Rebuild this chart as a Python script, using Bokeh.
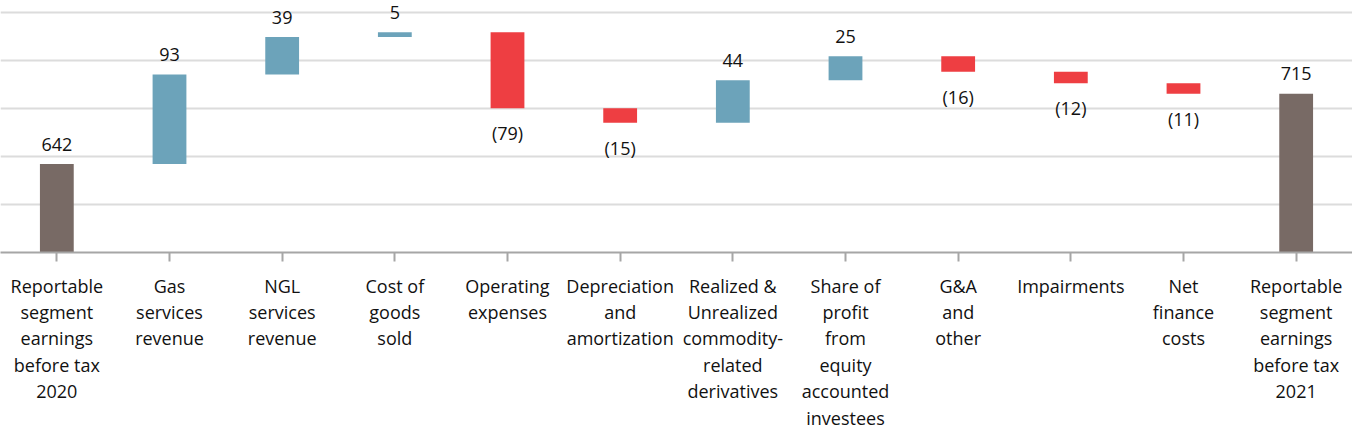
from bokeh.plotting import figure
from bokeh.models import ColumnDataSource, FixedTicker, FactorRange, Range1d
from bokeh.core.properties import value
from bokeh.embed import file_html
from bokeh.resources import INLINE

categories = [
    "Reportable\nsegment\nearnings\nbefore tax\n2020",
    "Gas\nservices\nrevenue",
    "NGL\nservices\nrevenue",
    "Cost of\ngoods\nsold",
    "Operating\nexpenses",
    "Depreciation\nand\namortization",
    "Realized &\nUnrealized\ncommodity-\nrelated\nderivatives",
    "Share of\nprofit\nfrom\nequity\naccounted\ninvestees",
    "G&A\nand\nother",
    "Impairments",
    "Net\nfinance\ncosts",
    "Reportable\nsegment\nearnings\nbefore tax\n2021",
]
values = [642, 93, 39, 5, -79, -15, 44, 25, -16, -12, -11, 715]
kinds = ["total", "delta", "delta", "delta", "delta", "delta", "delta", "delta",
         "delta", "delta", "delta", "total"]
grid_ticks = [600, 650, 700, 750, 800]
y_min, y_max = 550, 812

COL_TOTAL = "#786A65"
COL_UP = "#6CA3BA"
COL_DOWN = "#EE3E42"
FONT = "Open Sans"

bottoms, tops, colors, labels = [], [], [], []
run = 0
for v, k in zip(values, kinds):
    if k == "total":
        b, t = y_min, v
        run = v
        c = COL_TOTAL
    else:
        b, t = (run, run + v) if v >= 0 else (run + v, run)
        run += v
        c = COL_UP if v >= 0 else COL_DOWN
    bottoms.append(b)
    tops.append(t)
    colors.append(c)
    labels.append(str(v) if v >= 0 else "(%d)" % (-v))

src = ColumnDataSource(dict(x=categories, bottom=bottoms, top=tops, color=colors, label=labels))
pos = ColumnDataSource(dict(
    x=[c for c, v in zip(categories, values) if v >= 0],
    y=[t for t, v in zip(tops, values) if v >= 0],
    label=[l for l, v in zip(labels, values) if v >= 0]))
neg = ColumnDataSource(dict(
    x=[c for c, v in zip(categories, values) if v < 0],
    y=[b for b, v in zip(bottoms, values) if v < 0],
    label=[l for l, v in zip(labels, values) if v < 0]))

p = figure(x_range=FactorRange(*categories), y_range=Range1d(y_min, y_max),
           width=1352, height=432, output_backend="svg", toolbar_location=None,
           min_border_left=0, min_border_right=0, min_border_top=0, min_border_bottom=0)
p.outline_line_color = None
p.background_fill_color = "white"
p.border_fill_color = "white"

p.vbar(x="x", bottom="bottom", top="top", width=0.3, fill_color="color",
       line_color=None, source=src)

p.text(x="x", y="y", text="label", source=pos, text_align="center",
       text_baseline="middle", y_offset=-20, text_font=value(FONT),
       text_font_size="18px", text_color="#111111")
p.text(x="x", y="y", text="label", source=neg, text_align="center",
       text_baseline="middle", y_offset=25, text_font=value(FONT),
       text_font_size="18px", text_color="#111111")

p.xgrid.visible = False
p.ygrid.ticker = FixedTicker(ticks=grid_ticks)
p.ygrid.grid_line_color = "#DCDCDC"
p.ygrid.grid_line_width = 2
p.yaxis.visible = False

ax = p.xaxis[0]
ax.axis_line_color = "#A6A6A6"
ax.axis_line_width = 2
ax.major_tick_line_color = "#A6A6A6"
ax.major_tick_line_width = 2
ax.major_tick_in = 0
ax.major_tick_out = 9
ax.minor_tick_line_color = None
ax.major_label_text_font = FONT
ax.major_label_text_font_size = "18px"
ax.major_label_text_color = "#111111"
ax.major_label_text_line_height = 1.1
ax.major_label_standoff = 12
ax.major_label_orientation = "horizontal"

open("out.html", "w").write(file_html(p, INLINE))
